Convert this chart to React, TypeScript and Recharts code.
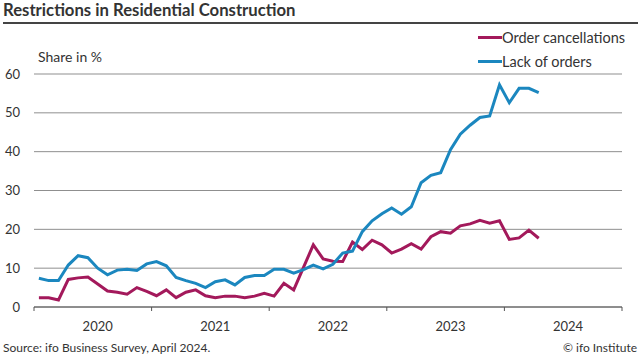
import React from 'react';
import { LineChart, Line, XAxis, YAxis, CartesianGrid } from 'recharts';

const years = ['2020', '2021', '2022', '2023', '2024'];

// Monthly values, Jan 2020 – Apr 2024
const orderCancellations = [
  2.4, 2.4, 1.8, 7.1, 7.5, 7.7, 5.9, 4.1, 3.8, 3.3, 5.0, 4.0,
  2.9, 4.4, 2.4, 3.8, 4.4, 2.9, 2.4, 2.8, 2.8, 2.4, 2.8, 3.5,
  2.8, 6.1, 4.4, 10.2, 16.0, 12.4, 11.8, 11.7, 16.7, 14.8, 17.2, 16.0,
  13.9, 14.9, 16.3, 14.9, 18.1, 19.4, 19.0, 20.9, 21.4, 22.3, 21.6, 22.2,
  17.4, 17.8, 19.8, 17.7,
];

const lackOfOrders = [
  7.4, 6.8, 6.8, 10.8, 13.2, 12.7, 10.0, 8.3, 9.5, 9.7, 9.4, 11.1,
  11.7, 10.6, 7.6, 6.8, 6.1, 5.0, 6.5, 7.0, 5.7, 7.6, 8.1, 8.1,
  9.7, 9.7, 8.7, 9.6, 10.8, 9.8, 11.0, 13.9, 14.4, 19.4, 22.2, 24.0,
  25.5, 23.9, 25.8, 32.0, 33.9, 34.6, 40.5, 44.5, 46.8, 48.8, 49.2, 57.2,
  52.6, 56.3, 56.3, 55.2,
];

const yTicks = [0, 10, 20, 30, 40, 50, 60];
const yearBoundaryTicks = [0, 12, 24, 36, 48, 60];
const yearLabelTicks = [6.5, 18.5, 30.5, 42.5, 54.5];

const seriesNames = ['Order cancellations', 'Lack of orders'];
const seriesColors = ['#A3195B', '#1B87BF'];

const data = orderCancellations.map((v, i) => ({
  m: i + 0.5,
  cancel: v,
  lack: lackOfOrders[i],
}));

const xTicks = [...yearBoundaryTicks, ...yearLabelTicks].sort((a, b) => a - b);

const XTick = (props: any) => {
  const { x, y, payload } = props;
  const v = payload.value as number;
  if (v % 12 === 0) {
    return <line x1={x} x2={x} y1={y} y2={y + 4} stroke="#555" strokeWidth={1} />;
  }
  return (
    <text x={x} y={y + 23.5} textAnchor="middle" fontSize={13} fill="#333">
      {years[Math.floor(v / 12)]}
    </text>
  );
};

export default function App() {
  const font = 'Lato, "Open Sans", sans-serif';
  return (
    <div
      style={{
        position: 'absolute',
        left: 0,
        top: 0,
        width: 640,
        height: 360,
        background: '#fff',
        fontFamily: font,
        color: '#333',
      }}
    >
      <div
        style={{
          position: 'absolute',
          left: 3,
          top: 0,
          fontSize: 16.7,
          fontWeight: 700,
          color: '#333',
          whiteSpace: 'nowrap',
        }}
      >
        Restrictions in Residential Construction
      </div>
      <div
        style={{
          position: 'absolute',
          left: 3,
          top: 22,
          width: 635,
          height: 2,
          background: '#444',
        }}
      />
      <div
        style={{
          position: 'absolute',
          left: 38,
          top: 48,
          fontSize: 14,
          color: '#333',
          whiteSpace: 'nowrap',
        }}
      >
        Share in %
      </div>
      <LineChart
        width={640}
        height={360}
        data={data}
        margin={{ top: 74, right: 18, bottom: 23, left: 4 }}
      >
        <CartesianGrid vertical={false} stroke="#8f8f8f" strokeWidth={1} />
        <XAxis
          type="number"
          dataKey="m"
          domain={[0, 60]}
          ticks={xTicks}
          interval={0}
          tickLine={false}
          tickSize={0}
          tickMargin={0}
          axisLine={{ stroke: '#555', strokeWidth: 1 }}
          height={30}
          tick={<XTick />}
        />
        <YAxis
          type="number"
          domain={[0, 60]}
          ticks={yTicks}
          interval={0}
          axisLine={false}
          tickLine={false}
          tickSize={0}
          tickMargin={14}
          width={30}
          tick={{ fontSize: 13, fill: '#333' }}
        />
        <Line
          type="linear"
          dataKey="cancel"
          name={seriesNames[0]}
          stroke={seriesColors[0]}
          strokeWidth={3}
          dot={false}
          isAnimationActive={false}
        />
        <Line
          type="linear"
          dataKey="lack"
          name={seriesNames[1]}
          stroke={seriesColors[1]}
          strokeWidth={3}
          dot={false}
          isAnimationActive={false}
        />
      </LineChart>
      {seriesNames.map((name, i) => (
        <div
          key={name}
          style={{
            position: 'absolute',
            left: 478,
            top: 27 + i * 24.8,
            height: 20,
            display: 'flex',
            alignItems: 'center',
            whiteSpace: 'nowrap',
            fontSize: 14.5,
            color: '#333',
          }}
        >
          <div style={{ width: 24, height: 3, background: seriesColors[i] }} />
          <span>{name}</span>
        </div>
      ))}
      <div
        style={{
          position: 'absolute',
          left: 3,
          top: 340,
          fontSize: 12,
          color: '#333',
          whiteSpace: 'nowrap',
        }}
      >
        Source: ifo Business Survey, April 2024.
      </div>
      <div
        style={{
          position: 'absolute',
          right: 3,
          top: 340,
          fontSize: 12,
          color: '#333',
          whiteSpace: 'nowrap',
        }}
      >
        © ifo Institute
      </div>
    </div>
  );
}
